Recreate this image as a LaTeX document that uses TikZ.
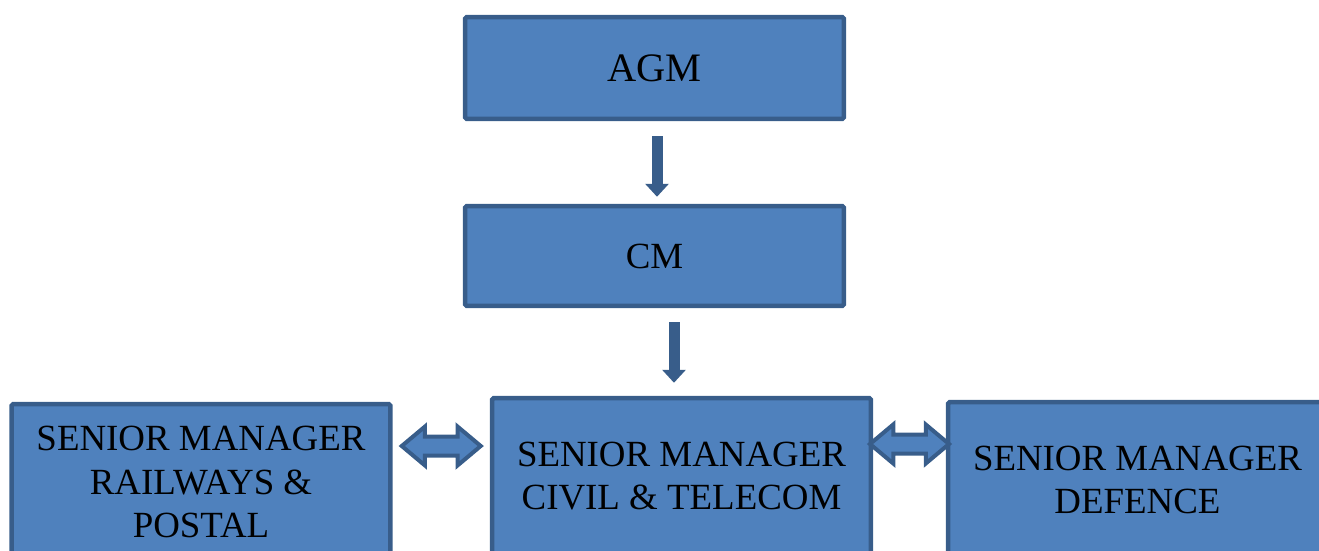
\documentclass[tikz,border=0pt]{standalone}
\usepackage{fontspec}
\setmainfont{Liberation Serif}
\usetikzlibrary{arrows.meta,shapes.arrows}
\definecolor{boxblue}{HTML}{4F81BD}
\definecolor{edgeblue}{HTML}{385D8A}
\tikzset{
    %Define style for boxes
    post/.style={
           rectangle,
           rounded corners=1pt,
           draw=edgeblue, fill=boxblue,
           line width=0.09cm,
           minimum width=7.58cm,
           align=center,
           font=\fontsize{21pt}{24.6pt}\selectfont},
    % Define arrow style (down)
    down/.style={
           edgeblue,
           line width=0.22cm,
           -{Triangle[width=0.46cm,length=0.26cm]}},
    % Define arrow style (both ways)
    both/.style={
           double arrow,
           draw=edgeblue, fill=boxblue,
           line width=0.08cm,
           inner xsep=0pt, inner ysep=0.15cm,
           minimum height=1.58cm,
           double arrow head extend=0.2cm,
           double arrow tip angle=80}
}

\begin{document}
\begin{tikzpicture}[x=0.02cm,y=-0.02cm]
\path[use as bounding box,clip] (0,0) rectangle (1319,551);

% Top of the chart
\node[post, minimum height=2.04cm, font=\fontsize{23pt}{27pt}\selectfont] (agm) at (654.5,68) {AGM};
\node[post, minimum height=2cm] (cm) at (654.5,256) {CM};

% Bottom row, boxes run past the lower edge
\node[post, minimum height=3.12cm] (rail) at (201,482) {SENIOR MANAGER\\RAILWAYS \&\\POSTAL};
\node[post, minimum height=3.12cm] (civil) at (681.5,476) {SENIOR MANAGER\\CIVIL \& TELECOM};
\node[post, minimum height=3.12cm] (defence) at (1137.5,480) {SENIOR MANAGER\\DEFENCE};

% Now connect the nodes
\draw[down, shorten <=0.3cm, shorten >=0.14cm] ([xshift=0.05cm]agm.south) -- ([xshift=0.05cm]cm.north);
\draw[down, shorten <=0.28cm, shorten >=0.26cm] ([xshift=0.39cm]cm.south) -- ([xshift=0.39cm]cm.south |- civil.north);
\path (rail.east) -- (civil.west) node[both, midway, yshift=0.66cm] (lr) {};
\path (civil.east) -- (defence.west) node[both, midway, yshift=0.68cm] (rr) {};
\end{tikzpicture}
\end{document}
